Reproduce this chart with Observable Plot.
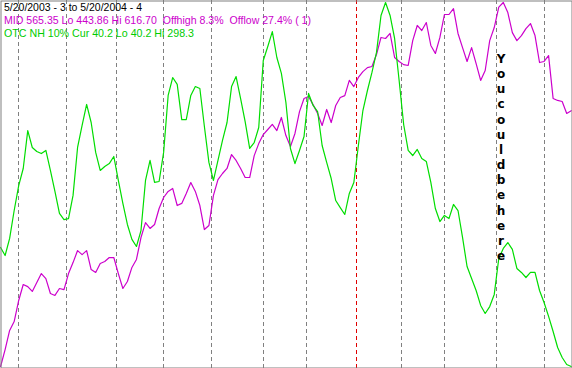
<!DOCTYPE html>
<html><head><meta charset="utf-8">
<script src="https://cdn.jsdelivr.net/npm/d3@7"></script>
<script src="https://cdn.jsdelivr.net/npm/@observablehq/plot@0.6"></script>
<style>
html,body{margin:0;padding:0;background:#fff;}
#wrap{position:relative;width:572px;height:368px;overflow:hidden;background:#fff;}
#wrap svg{position:absolute;left:0;top:0;}
.hdr{position:absolute;left:4px;display:inline-block;font:11px "Liberation Sans",Arial,sans-serif;white-space:pre;line-height:13px;transform-origin:0 0;}
#vert{position:absolute;left:494px;top:52px;width:14px;text-align:center;font:bold 12px "DejaVu Sans",Verdana,sans-serif;line-height:15.15px;color:#000;}
</style></head>
<body><div id="wrap"></div>
<script>
// trading-day index 0 = 5/20/2003 ... 253 = 5/20/2004, sampled every 2 days
const sampleDays = d3.range(0, 253, 2);
const midValues = [
443.86,451.9,461.0,465.2,475.2,482.8,481.8,479.5,483.7,488.0,
485.6,478.5,477.6,480.9,480.4,488.0,493.2,498.9,497.0,498.9,
489.9,488.5,492.8,493.7,495.6,495.6,488.0,480.9,484.2,490.9,
494.7,505.1,512.2,509.4,511.3,518.9,524.1,527.0,528.4,520.3,
521.3,526.0,531.2,527.0,520.3,508.9,510.8,525.1,532.6,535.5,
537.9,544.5,541.7,537.9,533.6,533.6,544.0,549.7,554.0,556.4,
558.8,555.9,562.1,553.5,548.3,554.5,564.9,571.1,572.1,568.2,
564.0,558.3,565.9,559.7,567.8,571.6,572.5,579.7,576.8,581.1,
583.9,585.8,586.3,592.0,600.1,599.6,602.0,590.6,588.7,587.2,
586.8,598.6,605.8,603.4,607.2,596.3,592.5,600.1,611.0,611.0,
613.8,602.0,595.3,588.7,595.3,587.7,579.7,584.4,598.6,604.8,
614.5,616.7,611.9,602.4,598.6,601.0,604.3,606.7,601.0,588.2,
588.7,591.5,571.1,570.2,569.7,564.0,565.35];
const otcNhValues = [
124.6,118.9,131.0,150.8,168.5,180.6,207.5,195.5,192.7,191.2,
193.4,179.2,164.3,148.7,144.4,145.1,161.5,195.5,211.1,226.0,
213.2,192.0,179.2,182.0,184.1,189.1,172.1,155.8,140.9,130.3,
125.3,136.6,172.1,186.3,170.7,171.4,192.0,232.4,245.1,240.2,
215.3,215.3,232.4,238.7,237.3,210.4,184.9,172.1,186.3,200.5,
213.2,238.7,245.8,230.2,213.9,194.8,199.0,209.7,257.2,267.1,
277.7,259.3,248.0,227.4,194.8,184.1,193.4,203.3,233.8,225.3,
221.0,196.9,184.9,173.5,157.9,152.9,148.0,162.9,170.7,196.9,
221.7,235.9,248.7,262.9,289.1,298.3,289.1,272.8,243.0,211.8,
193.4,189.8,194.1,187.7,185.6,170.7,152.2,143.0,147.3,145.1,
155.1,150.8,131.7,111.1,102.6,94.1,83.5,77.8,82.7,91.3,
116.8,123.9,128.1,123.2,109.7,106.9,103.3,106.9,106.9,94.1,
85.6,75.7,65.0,53.7,46.6,41.6,40.2];
const midLo = 443.86, midHi = 616.70;
const otcLo = 40.2, otcHi = 298.3;
// month starts (trading-day index); 157 = Jan 2 2004 (year change)
const monthStartDays = [8,29,51,72,93,116,135,157,177,196,219,240];
const yearStartDay = 157;
const headerLines = [
  {text: "5/20/2003 - 3 to 5/20/2004 - 4", color: "#000000", width: 138},
  {text: "MID 565.35 Lo 443.86 Hi 616.70  Offhigh 8.3%  Offlow 27.4% ( 1)", color: "#cc00cc", width: 307},
  {text: "OTC NH 10% Cur 40.2 Lo 40.2 Hi 298.3", color: "#00cc00", width: 190}
];
const note = "You could be here";

const mid = sampleDays.map((d, k) => ({day: d, v: (midValues[k] - midLo) / (midHi - midLo)}));
const otc = sampleDays.map((d, k) => ({day: d, v: (otcNhValues[k] - otcLo) / (otcHi - otcLo)}));

const chart = Plot.plot({
  width: 572, height: 368,
  margin: 0,
  style: {background: "#fff", overflow: "visible"},
  x: {type: "linear", domain: [0, 253], range: [0.08, 573], axis: null},
  y: {domain: [0, 1], range: [366, 2], axis: null},
  marks: [
    Plot.ruleX(monthStartDays, {x: d => d, stroke: d => d === yearStartDay ? "#e00000" : "#808080",
      strokeDasharray: "4,3", strokeWidth: 1, shapeRendering: "crispEdges"}),
    Plot.line(mid, {x: "day", y: "v", stroke: "#cc00cc", strokeWidth: 1.2}),
    Plot.line(otc, {x: "day", y: "v", stroke: "#00dd00", strokeWidth: 1.2}),
    Plot.frame({stroke: "#808080", inset: 0.5})
  ]
});
const wrap = document.getElementById("wrap");
wrap.appendChild(chart);
headerLines.forEach((h, i) => {
  const div = document.createElement("div");
  div.className = "hdr";
  div.style.top = (1 + i * 13) + "px";
  div.style.color = h.color;
  div.textContent = h.text;
  wrap.appendChild(div);
  const w = div.getBoundingClientRect().width;
  if (w > 0) div.style.transform = `scaleX(${h.width / w})`;
});
const v = document.createElement("div");
v.id = "vert";
v.innerHTML = note.replace(/ /g, "").split("").join("<br>");
wrap.appendChild(v);
</script>
</body></html>
